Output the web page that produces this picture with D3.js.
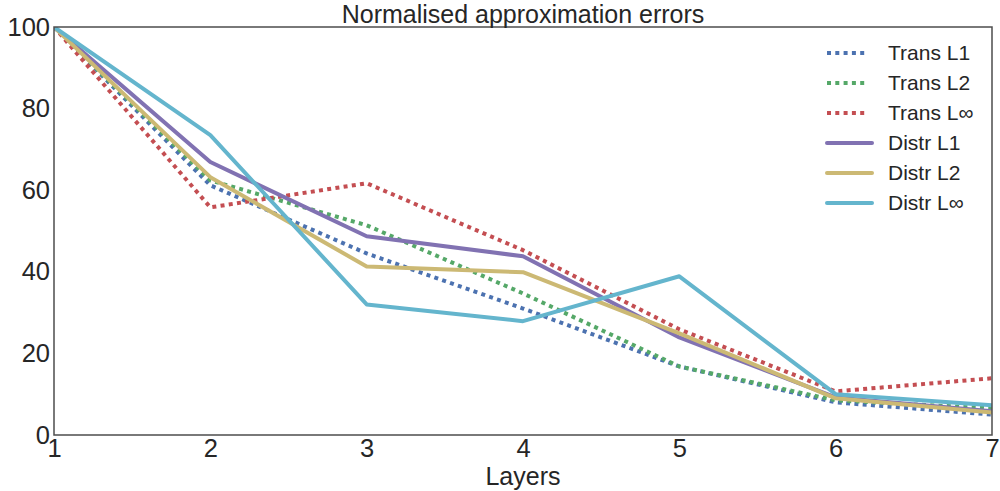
<!DOCTYPE html>
<html>
<head>
<meta charset="utf-8">
<script src="https://cdn.jsdelivr.net/npm/d3@7"></script>
<style>
  body { margin: 0; background: #fff; }
  svg { display: block; font-family: "Liberation Sans", Arial, sans-serif; }
</style>
</head>
<body>
<svg id="chart" width="1000" height="491"></svg>
<script>
// Layers on the x axis
const layers = [1, 2, 3, 4, 5, 6, 7];

// Normalised errors per series (percent of layer-1 error)
const transL1   = [100, 61.2, 44.5, 31.0, 16.8, 8.0, 5.0];
const transL2   = [100, 62.4, 51.4, 34.7, 16.8, 8.5, 6.5];
const transLinf = [100, 55.8, 61.7, 45.3, 25.9, 10.7, 13.9];
const distrL1   = [100, 66.9, 48.7, 43.8, 23.9, 9.2, 5.8];
const distrL2   = [100, 63.2, 41.3, 39.9, 24.9, 9.0, 5.5];
const distrLinf = [100, 73.5, 32.0, 27.9, 38.9, 10.0, 7.3];

const seriesNames = ["Trans L1", "Trans L2", "Trans L\u221e", "Distr L1", "Distr L2", "Distr L\u221e"];
const yTicks = [0, 20, 40, 60, 80, 100];

const series = [
  { name: seriesNames[0], values: transL1,   color: "#4C72B0", dotted: true },
  { name: seriesNames[1], values: transL2,   color: "#55A868", dotted: true },
  { name: seriesNames[2], values: transLinf, color: "#C44E52", dotted: true },
  { name: seriesNames[3], values: distrL1,   color: "#8172B2", dotted: false },
  { name: seriesNames[4], values: distrL2,   color: "#CCB974", dotted: false },
  { name: seriesNames[5], values: distrLinf, color: "#64B5CD", dotted: false }
];

const svg = d3.select("#chart");
const margin = { left: 54, right: 8, top: 27, bottom: 56 };
const W = 1000, H = 491;
const x = d3.scaleLinear().domain([1, 7]).range([margin.left, W - margin.right]);
const y = d3.scaleLinear().domain([0, 100]).range([H - margin.bottom, margin.top]);

const textColor = "#262626";

// Clip lines to the plot area
svg.append("defs").append("clipPath").attr("id", "plot")
  .append("rect")
  .attr("x", x(1)).attr("y", y(100))
  .attr("width", x(7) - x(1)).attr("height", y(0) - y(100));

const line = d3.line().x((d, i) => x(layers[i])).y(d => y(d));

const g = svg.append("g").attr("clip-path", "url(#plot)");
series.forEach(s => {
  g.append("path")
    .datum(s.values)
    .attr("d", line)
    .attr("fill", "none")
    .attr("stroke", s.color)
    .attr("stroke-width", 4)
    .attr("stroke-linejoin", "round")
    .attr("stroke-dasharray", s.dotted ? "4,4.3" : null);
});

// Frame
svg.append("rect")
  .attr("x", x(1)).attr("y", y(100))
  .attr("width", x(7) - x(1)).attr("height", y(0) - y(100))
  .attr("fill", "none").attr("stroke", "#4d4d4d").attr("stroke-width", 1.5);

// Axes (labels only, no tick marks)
const xAxis = d3.axisBottom(x).tickValues(layers).tickFormat(d3.format("d")).tickSize(0).tickPadding(4);
const yAxis = d3.axisLeft(y).tickValues(yTicks).tickFormat(d3.format("d")).tickSize(0).tickPadding(4);

const gx = svg.append("g").attr("transform", `translate(0,${y(0)})`).call(xAxis);
const gy = svg.append("g").attr("transform", `translate(${x(1)},0)`).call(yAxis);
[gx, gy].forEach(a => {
  a.select(".domain").remove();
  a.selectAll("text").attr("font-size", 25.5).attr("fill", textColor)
    .attr("font-family", "'Liberation Sans', Arial, sans-serif");
});

// Title and axis label
svg.append("text")
  .attr("x", (x(1) + x(7)) / 2).attr("y", 23)
  .attr("text-anchor", "middle").attr("font-size", 25).attr("fill", textColor)
  .text("Normalised approximation errors");

svg.append("text")
  .attr("x", (x(1) + x(7)) / 2).attr("y", 485)
  .attr("text-anchor", "middle").attr("font-size", 25).attr("fill", textColor)
  .text("Layers");

// Legend
const legend = svg.append("g").attr("transform", "translate(827,53)");
series.forEach((s, i) => {
  const row = legend.append("g").attr("transform", `translate(0,${i * 30})`);
  row.append("line")
    .attr("x1", 0).attr("x2", s.dotted ? 40 : 45).attr("y1", 0).attr("y2", 0)
    .attr("stroke", s.color).attr("stroke-width", 4)
    .attr("stroke-linecap", s.dotted ? "butt" : "round")
    .attr("stroke-dasharray", s.dotted ? "4,4.3" : null);
  row.append("text")
    .attr("x", 61).attr("y", 7)
    .attr("font-size", 21).attr("fill", textColor)
    .text(s.name);
});
</script>
</body>
</html>
